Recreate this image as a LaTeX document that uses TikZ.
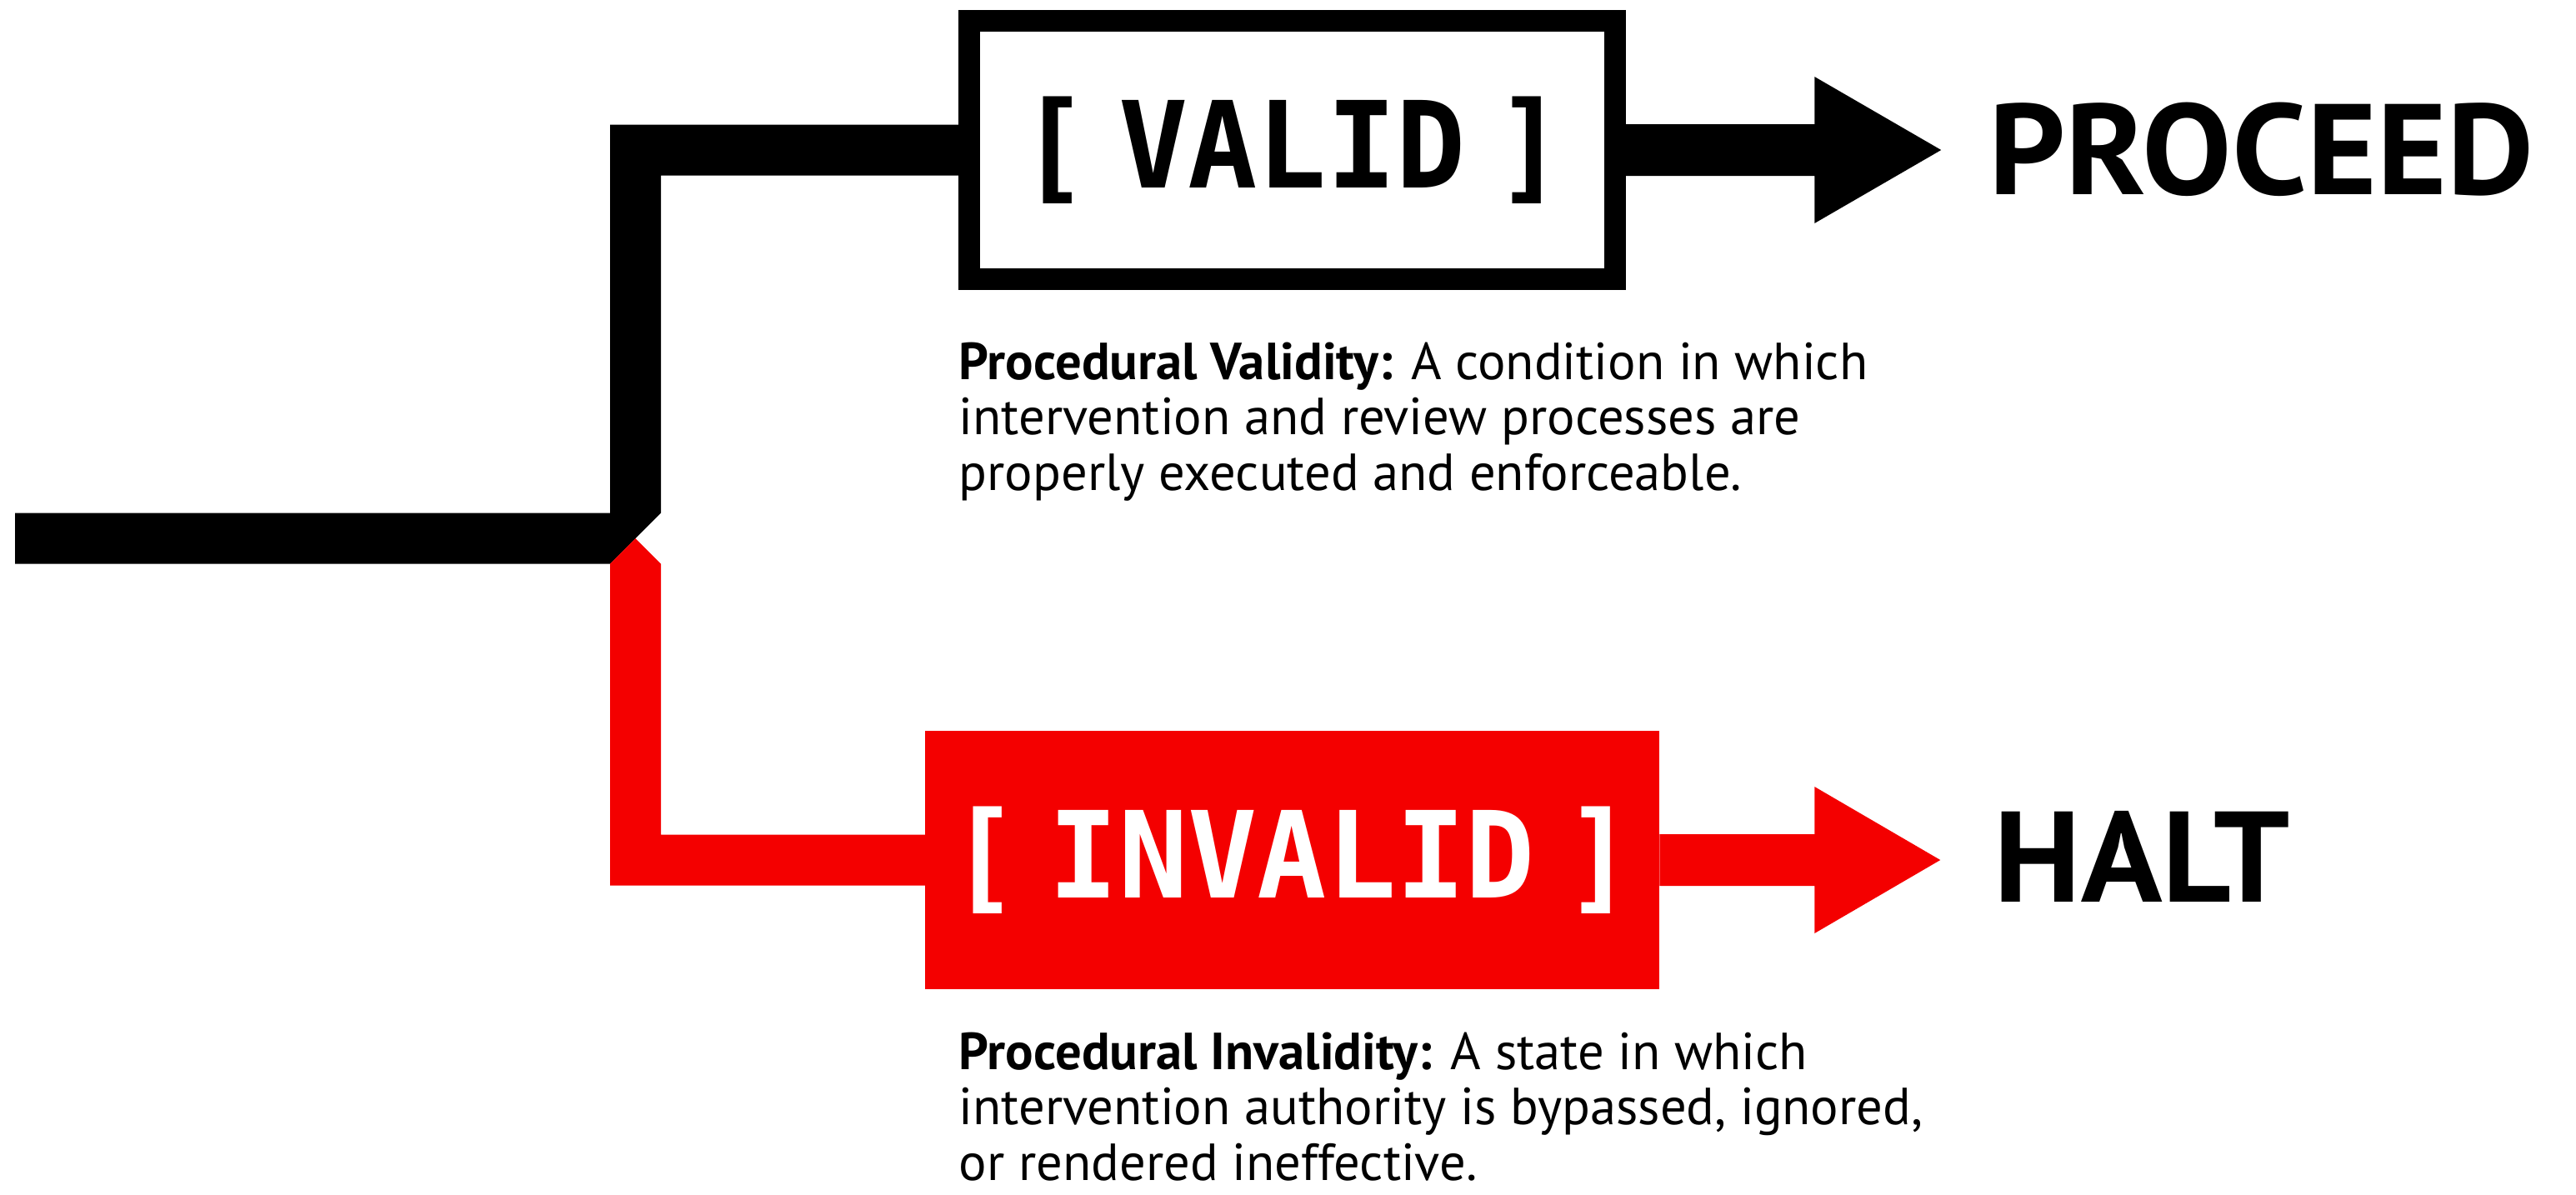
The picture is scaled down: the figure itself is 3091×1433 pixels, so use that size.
\documentclass[tikz,border=0pt]{standalone}
\usepackage{fontspec}
\setmainfont{PT Sans}
\newfontfamily\labelmono{DejaVu Sans Mono}[WordSpace=0.43, FakeStretch=0.96]
\newfontfamily\outcomefont{PT Sans}[FakeStretch=1.04]
\usetikzlibrary{calc}
\definecolor{alarmred}{RGB}{244,0,0}
\begin{document}
\begin{tikzpicture}[x=0.01cm,y=-0.01cm,
  validbox/.style={draw=black, line width=0.26cm, fill=white, minimum width=7.75cm, minimum height=3.09cm, inner sep=0pt, outer sep=0pt},
  invalidbox/.style={fill=alarmred, minimum width=8.81cm, minimum height=3.10cm, inner sep=0pt, outer sep=0pt},
  boxlabel/.style={font=\labelmono\bfseries\fontsize{41}{41}\selectfont},
  outcome/.style={font=\outcomefont\bfseries\fontsize{44}{44}\selectfont, anchor=base west, inner sep=0pt},
  desc/.style={font=\fontsize{17.8}{18.8}\selectfont, align=left, anchor=base west, inner sep=0pt}]
\useasboundingbox (0,0) rectangle (3091,1433);
\fill[white] (0,0) rectangle (3091,1433);

% boxes
\node[validbox, boxlabel] (valid) at (1550.5,180) {[ VALID ]};
\node[invalidbox, boxlabel, text=white] (invalid) at (1550.5,1032) {[ INVALID ]};

% junction coordinates
\coordinate (feed) at (18,646);
\coordinate (fork) at (762.5,646);

% black feed line and upper branch
\fill[black] ($(feed)+(0,-30.5)$) -- ($(fork)+(-30.5,-30.5)$)
  -- ($(fork |- valid.west)+(-30.5,-30.5)$) -- ($(valid.west)+(0,-30.5)$)
  -- ($(valid.west)+(0,30.5)$) -- ($(fork |- valid.west)+(30.5,30.5)$)
  -- ($(fork)+(30.5,-30.5)$) -- ($(fork)+(-30.5,30.5)$)
  -- ($(feed)+(0,30.5)$) -- cycle;

% red lower branch
\fill[alarmred] ($(fork)+(-30.5,30.5)$) -- (fork) -- ($(fork)+(30.5,30.5)$)
  -- ($(fork |- invalid.west)+(30.5,-30.5)$) -- ($(invalid.west)+(0,-30.5)$)
  -- ($(invalid.west)+(0,30.5)$) -- ($(fork |- invalid.west)+(-30.5,30.5)$) -- cycle;

% outcome arrows
\fill[black] ($(valid.east)+(0,-31)$) -- ($(valid.east)+(239,-31)$) -- ($(valid.east)+(239,-88)$)
  -- ($(valid.east)+(391,0)$) -- ($(valid.east)+(239,88)$) -- ($(valid.east)+(239,31)$)
  -- ($(valid.east)+(0,31)$) -- cycle;
\fill[alarmred] ($(invalid.east)+(0,-31)$) -- ($(invalid.east)+(186,-31)$) -- ($(invalid.east)+(186,-88)$)
  -- ($(invalid.east)+(337,0)$) -- ($(invalid.east)+(186,88)$) -- ($(invalid.east)+(186,31)$)
  -- ($(invalid.east)+(0,31)$) -- cycle;

% outcomes
\node[outcome] (proceed) at (2386,233) {PROCEED};
\node[outcome] (halt) at (2392,1082) {HALT};

% descriptions (anchored at the baseline of the last line)
\node[desc] (validnote) at (1150,588) {\textbf{Procedural Validity:} A condition in which\\intervention and review processes are\\properly executed and enforceable.};
\node[desc] (invalidnote) at (1150,1416) {\textbf{Procedural Invalidity:} A state in which\\intervention authority is bypassed, ignored,\\or rendered ineffective.};
\end{tikzpicture}
\end{document}
